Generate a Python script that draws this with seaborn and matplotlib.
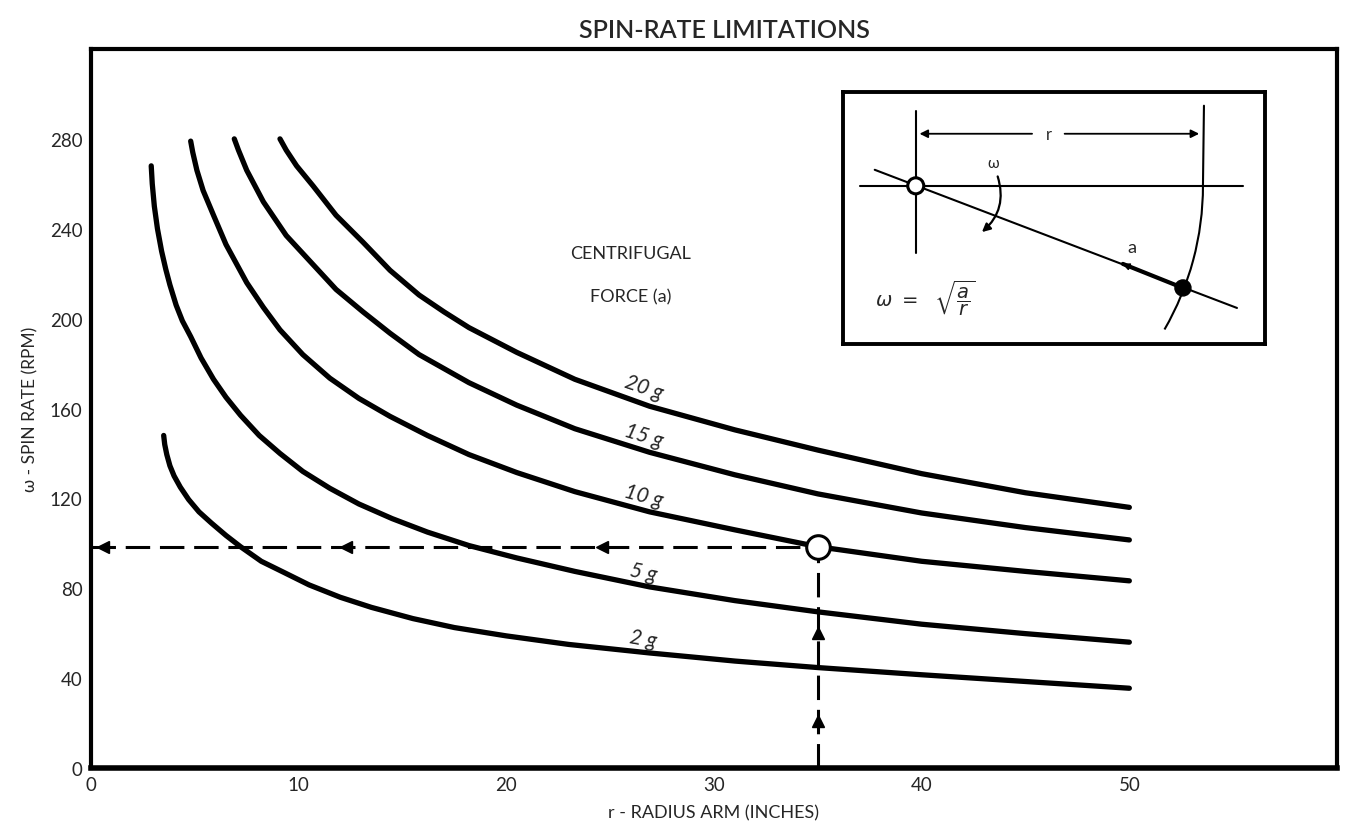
import numpy as np
import pandas as pd
import matplotlib
matplotlib.use('Agg')
import matplotlib.pyplot as plt
from matplotlib.patches import Arc, Circle, FancyArrowPatch
import seaborn as sns

# curves: r (inches) -> spin rate (rpm)
r_2g = [3.5, 3.55, 3.65, 3.8, 4.0, 4.3, 4.7, 5.2, 5.8, 6.5, 7.2, 8.2, 9.3, 10.5, 12, 13.5, 15.5, 17.5, 20, 23,
        26.9, 31, 35, 40, 45, 50]
w_2g = [148, 144, 139.5, 134.5, 130, 125, 119.5, 114, 109, 103.5, 98.5, 92, 87, 81.5, 76, 71.5, 66.5, 62.5, 58.8, 55,
        51.2, 47.6, 44.7, 41.5, 38.5, 35.5]

r_5g = [2.9, 2.95, 3.05, 3.2, 3.4, 3.6, 3.8, 4.1, 4.4, 4.8, 5.3, 5.9, 6.5, 7.2, 8.1, 9.1, 10.2, 11.5, 12.9,
        14.5, 16.2, 18.2, 20.5, 23.3, 26.9, 31, 35, 40, 45, 50]
w_5g = [268, 260, 250, 240, 230, 222, 215, 206, 199, 192, 182.5, 173, 165, 157, 148, 140, 132, 124.5, 117.5,
        111, 105, 99, 93.5, 87.5, 80.6, 74.5, 69.5, 64, 59.8, 56]

r_10g = [4.8, 4.9, 5.1, 5.4, 5.9, 6.5, 7.5, 8.3, 9.1, 10.2, 11.5, 12.9, 14.4, 16.2, 18.2, 20.5, 23.3, 26.9,
         31, 35, 40, 45, 50]
w_10g = [279, 274, 266, 257, 246, 233, 216, 205, 195, 184, 173.5, 164.5, 156.5, 148, 139.5, 131.5, 123, 114,
         106, 98.5, 92, 87.5, 83.3]

r_15g = [6.9, 7.1, 7.5, 8.3, 9.4, 10.7, 11.8, 13.1, 14.4, 15.8, 18.2, 20.5, 23.3, 26.9, 31, 35, 40, 45, 50]
w_15g = [280, 275, 266, 252, 237, 224, 213, 203, 193.5, 184, 171.5, 161.5, 151, 140.5, 130.5, 122, 113.5, 107, 101.5]

r_20g = [9.1, 9.4, 9.9, 10.7, 11.8, 13.1, 14.4, 15.8, 17.0, 18.2, 20.5, 23.3, 26.9, 31, 35, 40, 45, 50]
w_20g = [280, 275, 268, 259, 246, 234, 221.5, 210.5, 203, 196, 185, 173, 161, 150.5, 141.5, 131, 122.5, 116]

curve_names = ['2 g', '5 g', '10 g', '15 g', '20 g']
label_x = [26.6, 26.6, 26.6, 26.6, 26.6]
label_y = [57.5, 87, 121.5, 148, 169.5]
label_rot = [-10, -12, -15, -17, -19]

# worked example: 10 g at 35 in
ex_r = 35
ex_w = 98.5
h_arrow_x = [0.6, 12.3, 24.6]
v_arrow_y = [21, 60]

x_ticks = [0, 10, 20, 30, 40, 50]
y_ticks = [0, 40, 80, 120, 160, 200, 240, 280]

df = pd.concat([
    pd.DataFrame({'r': r, 'w': w, 'a': name})
    for r, w, name in zip([r_2g, r_5g, r_10g, r_15g, r_20g],
                          [w_2g, w_5g, w_10g, w_15g, w_20g], curve_names)
])

sns.set_theme(style='white')
plt.rcParams['font.family'] = ['Lato', 'DejaVu Sans']
plt.rcParams['mathtext.fontset'] = 'dejavusans'

fig = plt.figure(figsize=(13.49, 8.37), dpi=100)
ax = fig.add_axes([91 / 1349, 1 - 769 / 837, (1337 - 91) / 1349, (769 - 50) / 837])

sns.lineplot(data=df, x='r', y='w', hue='a', palette=['black'] * 5, legend=False,
             sort=False, estimator=None, lw=3.8, ax=ax, solid_capstyle='round', solid_joinstyle='round')

# dashed guide lines
ax.plot([0, ex_r], [ex_w, ex_w], color='black', lw=2.2, dashes=(8, 3.2))
ax.plot([ex_r, ex_r], [0, ex_w], color='black', lw=2.2, dashes=(8, 3.2))
ax.plot(h_arrow_x, [ex_w] * len(h_arrow_x), ls='none', marker='<', ms=9, color='black')
ax.plot([ex_r] * len(v_arrow_y), v_arrow_y, ls='none', marker='^', ms=9, color='black')
ax.plot([ex_r], [ex_w], ls='none', marker='o', ms=17, mfc='white', mec='black', mew=2.2, zorder=5)

for name, x, y, rot in zip(curve_names, label_x, label_y, label_rot):
    ax.text(x, y, name, rotation=rot, fontsize=15, style='italic', ha='center', va='center')

ax.text(26.0, 229, 'CENTRIFUGAL', fontsize=13, ha='center', va='center')
ax.text(26.0, 210, 'FORCE (a)', fontsize=13, ha='center', va='center')

ax.set_xlim(0, 60)
ax.set_ylim(0, 320)
ax.set_xticks(x_ticks)
ax.set_yticks(y_ticks)
ax.tick_params(direction='in', length=12, width=2.5, labelsize=13.5, color='black', pad=6)
for s in ax.spines.values():
    s.set_linewidth(3)
    s.set_color('black')
ax.spines['bottom'].set_linewidth(4)
ax.set_xlabel('r - RADIUS ARM (INCHES)', fontsize=13, labelpad=8)
ax.set_ylabel('ω - SPIN RATE (RPM)', fontsize=12.5, labelpad=8)

fig.text(0.537, 1 - 30 / 837, 'SPIN-RATE LIMITATIONS', fontsize=18, ha='center', va='center',
         family=['Liberation Sans Narrow', 'Lato', 'DejaVu Sans'], fontweight='semibold')

# inset diagram (local pixel units, y downward)
ins = fig.add_axes([843 / 1349, 1 - 345 / 837, 422 / 1349, 252 / 837])
ins.set_xlim(13.3, 435)
ins.set_ylim(265, 13.3)
ins.set_xticks([])
ins.set_yticks([])
for s in ins.spines.values():
    s.set_linewidth(2.8)
    s.set_color('black')

hub = (86, 107)
mass = (353, 209)
arm_r = 287
ins.plot([30, 413], [107, 107], color='black', lw=1.5)
ins.plot([45, 407], [91, 229], color='black', lw=1.5)
ins.plot([293, 353], [185, 209], color='black', lw=3)
ins.plot([86, 86], [32, 174], color='black', lw=1.5)
ins.plot([374, 373], [27, 107], color='black', lw=1.5)
ins.add_patch(Arc(hub, 2 * arm_r, 2 * arm_r, theta1=0, theta2=30, color='black', lw=1.5))
ins.add_patch(Circle(hub, 8, facecolor='white', edgecolor='black', lw=2.2, zorder=5))
ins.add_patch(Circle(mass, 8, facecolor='black', edgecolor='black', zorder=5))
ins.annotate('', xy=(87, 55), xytext=(205, 55),
             arrowprops=dict(arrowstyle='-|>', color='black', lw=1.3, mutation_scale=12))
ins.annotate('', xy=(372, 55), xytext=(232, 55),
             arrowprops=dict(arrowstyle='-|>', color='black', lw=1.3, mutation_scale=12))
ins.text(219, 55, 'r', fontsize=12, ha='center', va='center')
ins.text(163, 84, 'ω', fontsize=11, ha='center', va='center')
ins.add_patch(FancyArrowPatch((167, 95), (150, 155), connectionstyle='arc3,rad=-0.35',
                              arrowstyle='-|>', mutation_scale=12, color='black', lw=1.6))
ins.annotate('', xy=(290, 184), xytext=(310, 192),
             arrowprops=dict(arrowstyle='-|>', color='black', lw=1.2, mutation_scale=10))
ins.text(302, 168, 'a', fontsize=13, ha='center', va='center')
ins.text(45, 218, r'$\omega\ =\ \ \sqrt{\dfrac{a}{r}}$', fontsize=14, ha='left', va='center')

fig.savefig('out.png', dpi=100)
